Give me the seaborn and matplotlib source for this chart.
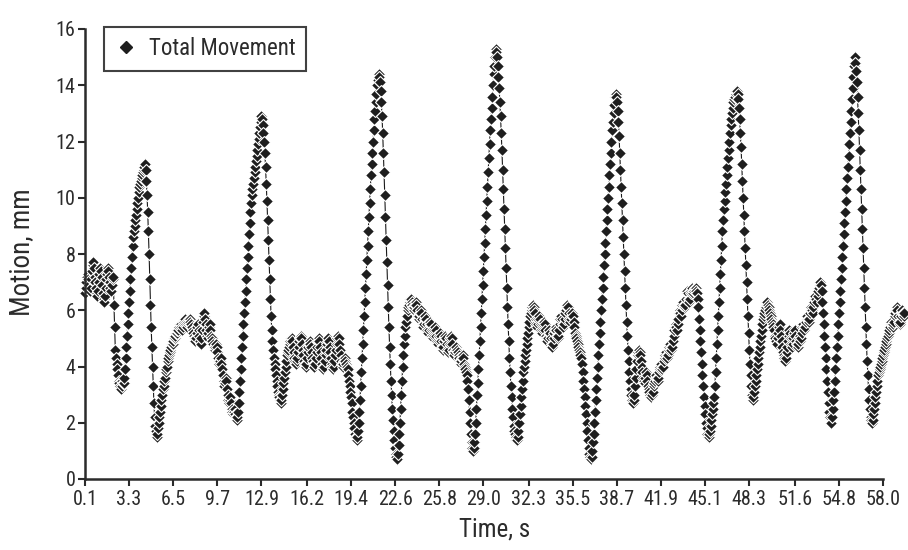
import matplotlib
matplotlib.use("Agg")
import matplotlib.pyplot as plt
from matplotlib import font_manager
from matplotlib.lines import Line2D
import numpy as np
import pandas as pd
import seaborn as sns

# Total movement, tenths of a millimetre, one sample every 0.05 s from t = 0.1 s
lead_in = [66, 68, 70, 72, 73, 71, 69, 67, 68, 71, 74, 76, 77, 75, 72, 70,
           68, 66, 65, 67, 70, 73, 75, 74, 72, 69, 66, 64, 63, 65, 68, 71,
           73, 75, 74, 72, 70, 68, 67, 69, 71, 72,
           62, 54, 46, 43, 41, 39, 37, 35, 34, 33, 32, 33, 35, 34]
cycle_1 = [34, 36, 39, 43, 47, 51, 55, 59, 63, 67, 71, 75, 79, 83, 86, 88,
           90, 92, 94, 96, 98, 100, 102, 104, 105, 106, 107, 108, 109, 110, 111, 112,
           110, 106, 101, 95, 88, 80, 71, 62, 54, 47, 40, 33, 27, 22, 19, 17, 15,
           16, 18, 20, 22, 24, 26, 28, 30, 32, 33, 35, 36, 38, 39, 40, 42, 43,
           44, 45, 46, 47, 48, 48, 49, 50, 50, 51, 52, 52, 53, 53, 54, 54, 55,
           55, 54, 53, 54, 55, 56, 57, 56, 55, 54, 55, 56, 57, 57, 56, 55, 54,
           53, 52, 51, 50, 49, 50, 52, 54, 55, 53, 51, 49, 48, 50, 53, 56, 58,
           59, 57, 55, 53, 51, 50, 52, 54, 55, 53, 51, 50, 49,
           48, 47, 46, 47, 48, 47, 45, 43, 42, 41, 42, 43, 41, 39, 37, 35, 33,
           34, 36, 35, 32, 30, 28, 27, 28, 29, 27, 25, 24, 23, 24, 25, 23, 22, 21]
cycle_2 = [22, 24, 27, 31, 35, 39, 43, 47, 51, 55, 59, 63, 67, 71, 75, 79,
           83, 87, 91, 95, 98, 101, 103, 105, 107, 109, 111, 113, 115, 117,
           119, 121, 123, 125, 127, 129,
           128, 126, 123, 120, 116, 111, 105, 99, 92, 85, 78, 71, 64, 58, 53,
           49, 46, 43, 41, 39, 37, 35, 33, 31, 30, 29, 28, 27,
           28, 30, 32, 34, 36, 38, 40, 42, 44, 45, 46, 47,
           48, 49, 50, 50, 49, 47, 45, 43, 42, 41, 42, 43, 45, 47, 49, 50,
           51, 50, 48, 46, 44, 42, 41, 40, 41, 43, 45, 47, 48, 49, 48, 47,
           45, 43, 42, 41, 40, 41, 43, 45, 47, 49, 50, 49, 47, 45, 43, 41,
           40, 39, 40, 42, 44, 46, 48, 49, 50, 49, 47, 45, 43, 41, 40, 39,
           40, 42, 44, 46, 48, 50, 51, 50, 48, 46, 44, 42, 41, 40, 41, 42,
           43, 42, 41, 40,
           39, 37, 35, 33, 31, 29, 27, 24, 22, 20, 18, 16, 15, 14, 15]
cycle_3 = [17, 20, 24, 28, 33, 38, 43, 48, 53, 58, 63, 68, 73, 78, 83, 88,
           93, 98, 103, 108, 112, 116, 120, 124, 128, 131, 134, 137, 140, 142, 144,
           143, 141, 138, 134, 129, 123, 116, 109, 101, 93, 85, 77, 69, 61, 54,
           47, 41, 35, 30, 25, 21, 17, 14, 11, 9, 8, 7,
           9, 12, 16, 20, 25, 30, 35, 40, 44, 48, 51, 54, 56, 58, 60, 61, 62,
           63, 64, 64, 63,
           62, 61, 60, 61, 62, 63, 62, 60, 58, 57, 58, 59, 60, 59, 57, 55, 54,
           55, 57, 58, 57, 55, 53, 52, 53, 55, 56, 55, 53, 51, 50, 51, 53, 54,
           53, 51, 49, 48, 49, 51, 52, 51, 49, 47, 46, 47, 49, 50, 51, 50, 48,
           46, 45, 46, 48, 50, 51, 50, 48, 46, 45, 44, 45, 46, 47, 46, 45, 44,
           43, 42, 41,
           42, 43, 44, 43, 41, 40, 39, 38, 37, 35, 32, 28, 24, 20, 16, 13, 11,
           10, 11, 13, 16, 20, 25, 30]
cycle_4 = [34, 39, 44, 49, 54, 59, 64, 69, 74, 79, 84, 89, 94, 99, 104, 109,
           114, 119, 124, 128, 132, 136, 140, 144, 147, 150, 153,
           152, 150, 147, 143, 139, 134, 129, 123, 117, 110, 103, 96, 89, 82,
           75, 68, 61, 55, 49, 43, 38, 33, 29, 25, 22, 19, 17, 16, 15, 14, 14,
           15, 17, 20, 23, 26, 29, 32, 35, 38, 40, 42, 44, 46, 48, 50, 52, 54,
           56, 58, 59, 60, 61, 62, 61, 60,
           59, 57, 55, 54, 55, 57, 58, 57, 55, 53, 52, 53, 55, 56, 55, 53, 51,
           50, 49, 50, 52, 53, 52, 50, 48, 47, 48, 50, 52, 53, 54, 53, 51, 50,
           51, 53, 55, 57, 58, 57, 55, 54, 55, 57, 59, 60, 61, 62, 61, 59, 57,
           56, 57, 58, 59, 58, 56, 54, 52, 51, 50, 49, 48, 47, 46, 45, 44, 43,
           41, 38, 35, 32, 29, 26, 23, 20, 17, 14, 11, 9, 8, 7]
cycle_5 = [8, 10, 13, 16, 20, 24, 28, 32, 36, 40, 44, 48, 52, 56, 60, 64,
           68, 72, 76, 80, 84, 88, 92, 96, 100, 104, 108, 112, 116, 120, 124,
           127, 130, 133, 136,
           137, 136, 134, 131, 127, 122, 116, 110, 104, 98, 92, 86, 80, 74, 68,
           62, 56, 51, 46, 42, 38, 35, 32, 30, 28, 27,
           28, 30, 33, 36, 39, 42, 44, 45, 46, 45, 44, 42, 40, 38, 36, 35, 34,
           36, 38, 37, 35, 33, 32, 31, 30, 29, 29, 30, 31,
           33, 34, 35, 36, 37, 36, 35, 36, 38, 39, 40, 41, 40, 39, 40, 42, 43,
           44, 45, 44, 43, 44, 46, 47, 48, 47, 46, 47, 49, 51, 53, 54, 55, 54,
           53, 55, 57, 59, 60, 59, 58, 60, 62, 63, 62, 61, 62, 64, 66, 67, 66,
           64, 63, 64, 66, 67, 68, 67, 66, 67, 68, 68, 67, 66,
           64, 61, 57, 53, 49, 45, 41, 37, 33, 29, 26, 23, 20, 18, 16, 15]
cycle_6 = [15, 16, 17, 19, 21, 23, 25, 27, 29, 33, 38, 43, 48, 53, 58, 63,
           68, 73, 78, 83, 88, 92, 96, 99, 102, 105, 108, 111, 114, 117, 120,
           123, 126, 128, 130, 132, 134, 135, 136, 137, 138, 138,
           137, 135, 132, 128, 123, 118, 112, 106, 100, 94, 88, 82, 76, 70, 64,
           58, 52, 46, 41, 37, 33, 30, 28,
           29, 31, 33, 35, 37, 39, 41, 43, 45, 47, 49, 51, 53, 55, 57, 58, 59,
           60, 61, 62, 63, 62, 61, 60, 59, 58, 57, 56, 55,
           54, 53, 51, 50, 49, 48, 50, 52, 54, 55, 53, 51, 49, 47, 45, 44, 43,
           42, 43, 45, 47, 49, 51, 53, 52, 50, 48, 47, 48, 50, 52, 53, 51, 49,
           48, 47, 48, 50, 51,
           49, 50, 52, 54, 55, 54, 53, 54, 56, 57, 58, 57, 56, 57, 59, 60, 61,
           60, 59, 61, 63, 64, 65, 64, 63, 65, 67, 68, 69, 70, 69,
           67, 63, 59, 55, 51, 47, 43, 39, 35, 31, 27, 24, 22, 20]
cycle_7 = [20, 22, 25, 28, 31, 35, 39, 43, 47, 51, 55, 59, 63, 67, 71, 75,
           79, 83, 87, 91, 95, 99, 103, 107, 111, 115, 119, 123, 127, 131, 135,
           139, 143,
           147, 150, 148, 145, 141, 136, 130, 124, 117, 110, 103, 96, 89, 82, 75,
           68, 61, 54, 48, 42, 37, 32, 28, 25, 22, 21, 20,
           21, 23, 25, 27, 29, 31, 33, 35, 37, 38, 39, 40, 41, 42, 43, 44, 45,
           46, 47, 48, 49, 50, 51, 52, 53, 54, 55, 56, 55, 54, 55,
           56, 58, 59, 60, 61, 60, 58, 56, 55, 56, 58, 59, 60, 59, 58, 59]

first_time_s = 0.1
sample_step_s = 0.05

time_tick_labels = ["0.1", "3.3", "6.5", "9.7", "12.9", "16.2", "19.4", "22.6",
                    "25.8", "29.0", "32.3", "35.5", "38.7", "41.9", "45.1",
                    "48.3", "51.6", "54.8", "58.0"]
motion_ticks = [0, 2, 4, 6, 8, 10, 12, 14, 16]
series_name = "Total Movement"

tenths = lead_in + cycle_1 + cycle_2 + cycle_3 + cycle_4 + cycle_5 + cycle_6 + cycle_7
df = pd.DataFrame({
    "time": first_time_s + sample_step_s * np.arange(len(tenths)),
    "motion": np.array(tenths) / 10.0,
})

sns.set_style("ticks")

# Prefer a narrow sans face for the labels when one is installed
installed = {f.name for f in font_manager.fontManager.ttflist}
narrow_candidates = ["Liberation Sans Narrow", "Arial Narrow", "Roboto Condensed",
                     "Open Sans Condensed", "Noto Sans Condensed",
                     "DejaVu Sans Condensed"]
narrow = [n for n in narrow_candidates if n in installed]
label_family = narrow[0] if narrow else "Liberation Sans"
plt.rcParams["font.family"] = [label_family, "DejaVu Sans"]

ink = "#2b2b2b"
fig = plt.figure(figsize=(9.08, 5.5), dpi=100)
fig.patch.set_facecolor("white")
ax = fig.add_axes([85 / 908, 71 / 550, 798 / 908, 450 / 550])

sns.lineplot(data=df, x="time", y="motion", ax=ax, color="#1a1a1a",
             linewidth=0.8, marker="D", markersize=6.4,
             markerfacecolor="#1e1e1e", markeredgecolor="white",
             markeredgewidth=0.8, clip_on=False, legend=False)

ax.set_xlim(first_time_s, float(time_tick_labels[-1]))
ax.set_ylim(0, 16)
ax.set_xticks([float(s) for s in time_tick_labels])
ax.set_xticklabels(time_tick_labels)
ax.set_yticks(motion_ticks)
ax.set_yticklabels([str(v) for v in motion_ticks])

for side in ("top", "right"):
    ax.spines[side].set_visible(False)
for side in ("left", "bottom"):
    ax.spines[side].set_linewidth(1.8)
    ax.spines[side].set_color(ink)

ax.tick_params(axis="both", colors=ink, labelcolor=ink, labelsize=14.5,
               length=5, width=1.5, direction="out")
ax.tick_params(axis="x", pad=3)
ax.tick_params(axis="y", pad=2)

ax.set_xlabel("Time, s", fontsize=18, color=ink)
ax.set_ylabel("Motion, mm", fontsize=19.5, color=ink)
ax.xaxis.set_label_coords((495 - 85) / 798, (479 - 518) / 450)
ax.yaxis.set_label_coords((35 - 85) / 798, (479 - 252) / 450)

handle = Line2D([], [], linestyle="none", marker="D", markersize=6.2,
                markerfacecolor="#1e1e1e", markeredgecolor="#1e1e1e")
leg = ax.legend([handle], [series_name], loc="upper left",
                bbox_to_anchor=(104 / 908, 1 - 27 / 550),
                bbox_transform=fig.transFigure, borderaxespad=0,
                frameon=True, fancybox=False,
                fontsize=16.5 if narrow else 16,
                handlelength=1.0, handletextpad=0.5, borderpad=0.45)
leg.get_frame().set_edgecolor("#111111")
leg.get_frame().set_linewidth(1.5)
for txt in leg.get_texts():
    txt.set_color(ink)

fig.savefig("out.png", dpi=100, facecolor="white")
